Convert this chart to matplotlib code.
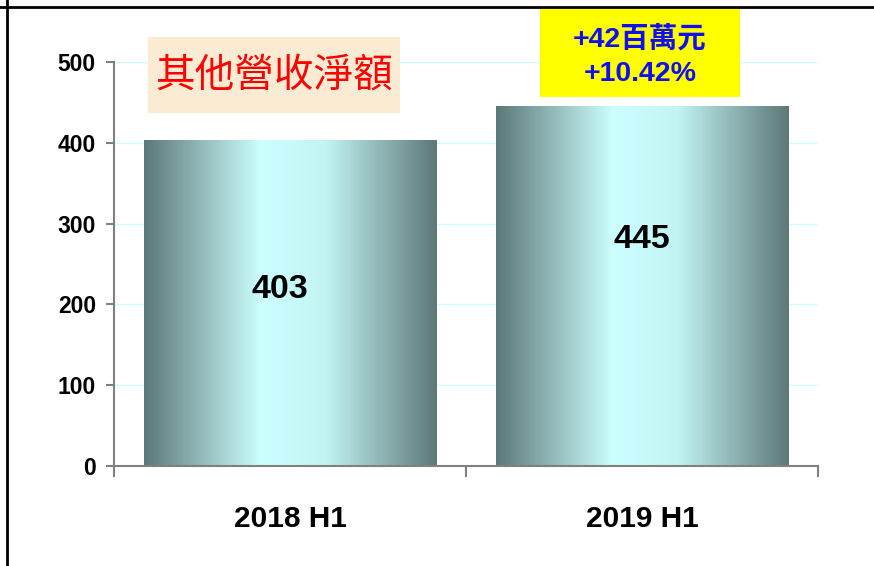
import matplotlib
matplotlib.use("Agg")
import matplotlib.pyplot as plt
import numpy as np
from matplotlib.colors import LinearSegmentedColormap
from matplotlib.lines import Line2D
from matplotlib.patches import Rectangle

plt.rcParams['font.family'] = ['Liberation Sans', 'Noto Sans CJK TC', 'DejaVu Sans']

categories = ["2018 H1", "2019 H1"]
values = [403, 445]
yticks = [0, 100, 200, 300, 400, 500]
title_text = "其他營收淨額"
change_text = "+42百萬元\n+10.42%"

W, H = 874, 566
fig = plt.figure(figsize=(W / 100, H / 100), dpi=100)
ax = fig.add_axes([114 / W, 1 - 466 / H, 704 / W, 404 / H])

# horizontal gradient for bars: dark edges, light cyan centre
cmap = LinearSegmentedColormap.from_list(
    "bar", [(0.0, "#5d7878"), (0.40, "#ccffff"), (0.62, "#c2f4f4"), (1.0, "#5d7878")])
grad = np.linspace(0, 1, 256).reshape(1, -1)

width = 0.83
x = np.arange(len(categories))
label_y = [v / 2 + 17 for v in values[:1]] + [v / 2 + 58 for v in values[1:]]
for xi, v, ly in zip(x, values, label_y):
    ax.imshow(grad, cmap=cmap, aspect="auto",
              extent=[xi - width / 2, xi + width / 2, 0, v], zorder=2)
    ax.text(xi - 0.03 if xi == 0 else xi, ly, str(v), ha="center", va="center",
            fontsize=24.5, fontweight="bold", zorder=3)

ax.set_xlim(-0.5, 1.5)
ax.set_ylim(0, 500)
ax.set_yticks(yticks)
ax.set_yticklabels([str(t) for t in yticks], fontsize=16.5, fontweight="bold")
for t in yticks[1:]:
    ax.axhline(t, color="#ccffff", lw=1, zorder=1)

ax.set_xticks([-0.5, 0.5, 1.5])
ax.set_xticklabels([])
ax.set_xticks(x, minor=True)
ax.set_xticklabels(categories, minor=True, fontsize=21.5, fontweight="bold")
ax.tick_params(axis="x", which="minor", length=0, pad=28)
ax.tick_params(axis="x", which="major", length=8, color="#808080", width=1.5)
ax.tick_params(axis="y", length=6, color="#808080", width=1.5, pad=7)

for s in ["top", "right"]:
    ax.spines[s].set_visible(False)
for s in ["left", "bottom"]:
    ax.spines[s].set_color("#808080")
    ax.spines[s].set_linewidth(1.5)
ax.set_facecolor("none")

# title box
fig.add_artist(Rectangle((148 / W, 1 - 113 / H), 252 / W, 76 / H,
                         transform=fig.transFigure, facecolor="#fbebd3",
                         edgecolor="none", zorder=3))
fig.text(274 / W, 1 - 76 / H, title_text, ha="center", va="center",
         fontsize=28.5, color="#ff0000", family=['Noto Sans CJK TC'], zorder=4)

# change box
fig.add_artist(Rectangle((540 / W, 1 - 97 / H), 200 / W, 89 / H,
                         transform=fig.transFigure, facecolor="#ffff00",
                         edgecolor="none", zorder=3))
fig.text(640 / W, 1 - 56 / H, change_text, ha="center", va="center",
         fontsize=20.5, color="#1010ee", fontweight="bold", linespacing=1.4, zorder=4)

# page frame lines
fig.add_artist(Line2D([0, 1], [1 - 7 / H, 1 - 7 / H], color="black", lw=2, zorder=5))
fig.add_artist(Line2D([7 / W, 7 / W], [0, 1], color="black", lw=2, zorder=5))

fig.savefig("out.png", dpi=100)
